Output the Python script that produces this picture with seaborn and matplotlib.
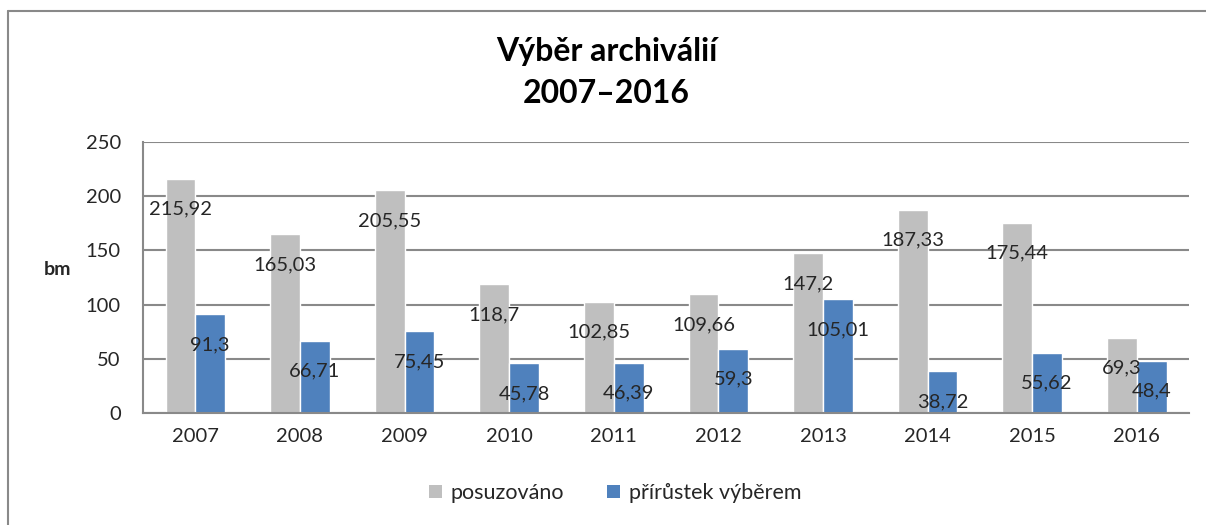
import matplotlib.pyplot as plt
import pandas as pd
import seaborn as sns
from matplotlib.lines import Line2D
from matplotlib.patches import Patch

years = ["2007", "2008", "2009", "2010", "2011", "2012", "2013", "2014", "2015", "2016"]
posuzovano = [215.92, 165.03, 205.55, 118.7, 102.85, 109.66, 147.2, 187.33, 175.44, 69.3]
prirustek = [91.3, 66.71, 75.45, 45.78, 46.39, 59.3, 105.01, 38.72, 55.62, 48.4]
series_names = ["posuzováno", "přírůstek výběrem"]
colors = ["#BFBFBF", "#4F81BD"]
y_ticks = [0, 50, 100, 150, 200, 250]

df = pd.DataFrame({
    "rok": years * 2,
    "hodnota": posuzovano + prirustek,
    "serie": [series_names[0]] * len(years) + [series_names[1]] * len(years),
})

sns.set_theme(style="white")
plt.rcParams["font.family"] = ["Lato", "DejaVu Sans"]
text_color = "#262626"
grid_color = "#898989"
fs = 14.5

fig = plt.figure(figsize=(12.06, 5.25), dpi=100)
ax = fig.add_axes([0.1186, 0.2133, 0.986 - 0.1186, 0.7295 - 0.2133])

sns.barplot(data=df, x="rok", y="hodnota", hue="serie", palette=colors,
            width=0.57, gap=0, saturation=1, ax=ax, legend=False)

ax.set_ylim(0, 250)
ax.set_yticks(y_ticks)
ax.set_xlim(-0.5, len(years) - 0.5)
ax.yaxis.grid(True, color=grid_color, linewidth=1.5)
ax.set_axisbelow(True)
for side in ["top", "right"]:
    ax.spines[side].set_visible(False)
for side in ["left", "bottom"]:
    ax.spines[side].set_color(grid_color)
    ax.spines[side].set_linewidth(1.5)
ax.tick_params(axis="y", length=0, pad=16, labelsize=fs, labelcolor=text_color)
ax.tick_params(axis="x", length=0, pad=11, labelsize=fs, labelcolor=text_color)
ax.set_xlabel("")
ax.set_ylabel("bm", rotation=0, fontsize=14, fontweight="bold", color=text_color)
ax.yaxis.set_label_coords(-0.082, 0.5)

for container, vals in zip(ax.containers, [posuzovano, prirustek]):
    labels = [str(v).replace(".", ",") for v in vals]
    ax.bar_label(container, labels=labels, padding=-28, fontsize=fs, color=text_color)

fig.text(0.503, 0.902, "Výběr archiválií", ha="center", va="center",
         fontsize=23, fontweight="bold", color="black")
fig.text(0.503, 0.822, "2007–2016", ha="center", va="center",
         fontsize=23, fontweight="bold", color="black")

handles = [Patch(facecolor=c, edgecolor="none") for c in colors]
fig.legend(handles, series_names, loc="center", bbox_to_anchor=(0.51, 0.061),
           ncol=2, frameon=False, fontsize=15.5, handlelength=0.6, handleheight=0.6,
           handletextpad=0.4, columnspacing=2.0, labelcolor=text_color)

fig.add_artist(Line2D([8 / 1206, 8 / 1206], [0, 1 - 11 / 525], color=grid_color,
                      linewidth=1.5, transform=fig.transFigure))
fig.add_artist(Line2D([8 / 1206, 1], [1 - 11 / 525, 1 - 11 / 525], color=grid_color,
                      linewidth=1.5, transform=fig.transFigure))

fig.savefig("out.png", dpi=100)
